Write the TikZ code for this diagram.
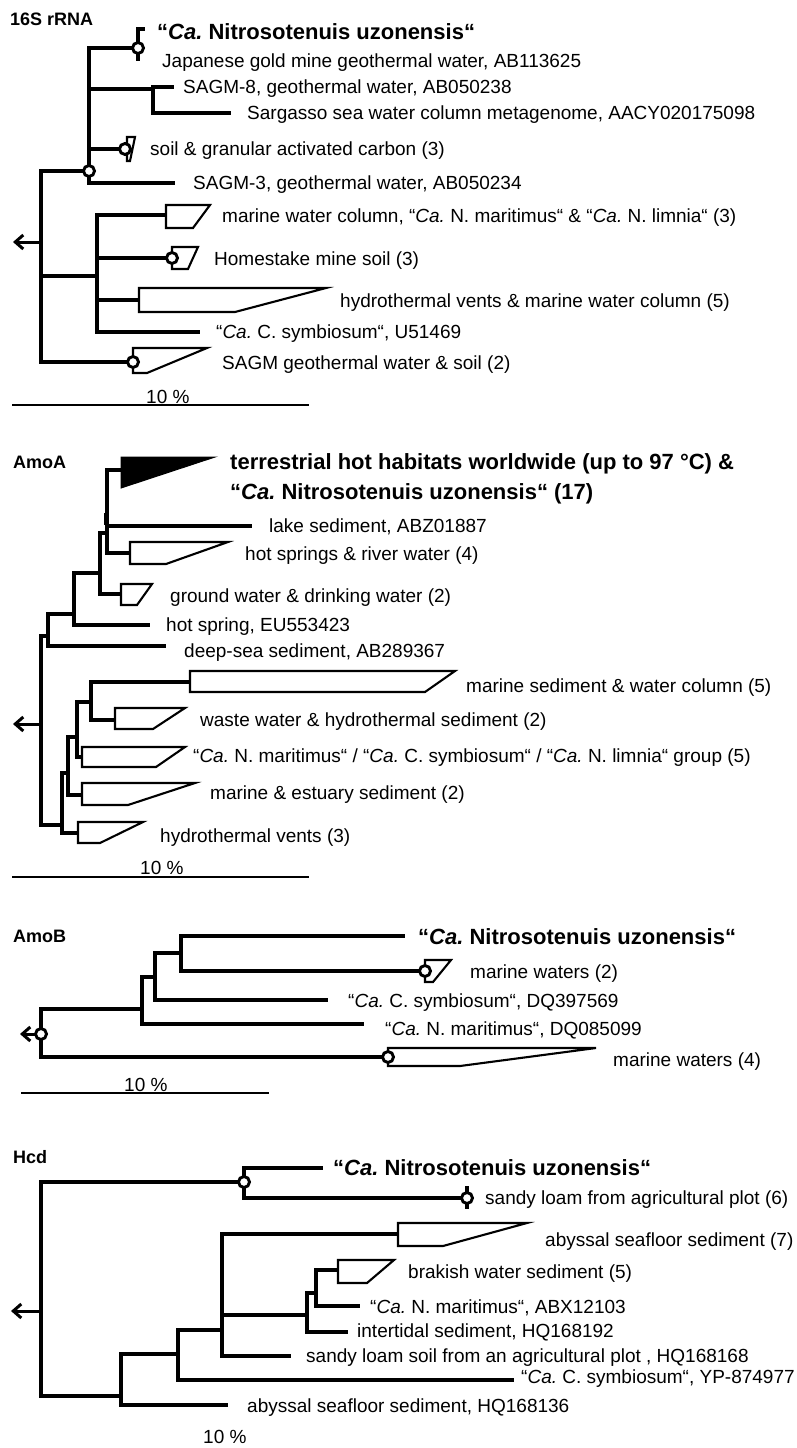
\documentclass[tikz,border=0pt]{standalone}
\usepackage{fontspec}
\setmainfont{Liberation Sans}
\usetikzlibrary{arrows.meta}
\frenchspacing
\newcommand{\cladeshape}[5]{\draw[wdg] (#1,#2) -- (#4,#2) -- (#5,#3) -- (#1,#3) -- cycle;}
\tikzset{
  br/.style={line width=3.2pt},
  brt/.style={line width=3.4pt},
  wdg/.style={line width=2.1pt, fill=white},
  bub/.style={circle, draw, line width=2.9pt, fill=white, minimum size=11pt, inner sep=0pt},
  lab/.style={anchor=west, inner sep=0pt, text height=13.4pt, text depth=0pt, font=\fontsize{19}{22}\selectfont},
  blab/.style={anchor=west, inner sep=0pt, text height=15.5pt, text depth=0pt, font=\fontsize{22}{26}\selectfont\bfseries},
  ttl/.style={anchor=west, inner sep=0pt, text height=12.8pt, text depth=0pt, font=\fontsize{18}{21}\selectfont\bfseries},
  rarr/.style={line width=3pt, -{Straight Barb[length=8pt,width=14pt]}},
  sbar/.style={line width=2.3pt}
}
\begin{document}
\begin{tikzpicture}[x=1pt,y=-1pt]
\useasboundingbox (0,0) rectangle (796,1448);

%%%%%%%%%%%%%%%%%%%% 16S rRNA
\node[ttl] (t1) at (10,19) {16S rRNA};
\coordinate (r1) at (41,242);
\coordinate (a1) at (13,242);
\coordinate (n1a) at (89,171);
\coordinate (n1b) at (97,276);
\coordinate (s1sagm) at (133,362);
\draw[br] (r1) |- (n1a) (r1) |- (n1b) (r1) |- (s1sagm);
\draw[rarr] (r1) -- (a1);
\coordinate (n1c) at (138,48);
\coordinate (n1d) at (153,89);
\coordinate (s1soil) at (122,149);
\coordinate (l1sagm3) at (175,183);
\draw[br] (n1a) |- (n1c) (n1a) |- (n1d) (n1a) |- (s1soil) (n1a) |- (l1sagm3);
\coordinate (l1uzo) at (145,29);
\coordinate (l1jap) at (138,61);
\draw[br] (n1c) |- (l1uzo) (n1c) -- (l1jap);
\coordinate (l1s8) at (174,87);
\coordinate (l1sarg) at (231,113);
\draw[br] (n1d) |- (l1s8) (n1d) |- (l1sarg);
\cladeshape{127}{137}{161}{135}{130}
\coordinate (s1mar) at (166,215);
\coordinate (s1home) at (168,258);
\coordinate (s1hyd) at (139,300);
\coordinate (l1csym) at (200,332);
\draw[br] (n1b) |- (s1mar) (n1b) |- (s1home) (n1b) |- (s1hyd) (n1b) |- (l1csym);
\cladeshape{166}{205}{228}{210}{193}
\cladeshape{172}{247}{269}{198}{188}
\cladeshape{139}{288}{312}{326}{235}
\cladeshape{133}{348}{373}{207}{147}
\node[bub] (c1a) at (n1a) {};
\node[bub] (c1c) at (n1c) {};
\node[bub] (c1soil) at (125,149) {};
\node[bub] (c1home) at (172,258) {};
\node[bub] (c1sagm) at (s1sagm) {};
\node[blab] (u1) at (157,32) {“\textit{Ca.} Nitrosotenuis uzonensis“};
\node[lab] (x1a) at (162,61) {Japanese gold mine geothermal water, AB113625};
\node[lab] (x1b) at (183,87) {SAGM-8, geothermal water, AB050238};
\node[lab] (x1c) at (247,113) {Sargasso sea water column metagenome, AACY020175098};
\node[lab] (x1d) at (150,149) {soil \& granular activated carbon (3)};
\node[lab] (x1e) at (193,183) {SAGM-3, geothermal water, AB050234};
\node[lab] (x1f) at (222,216) {marine water column, “\textit{Ca.} N. maritimus“ \& “\textit{Ca.} N. limnia“ (3)};
\node[lab] (x1g) at (214,259) {Homestake mine soil (3)};
\node[lab] (x1h) at (340,301) {hydrothermal vents \& marine water column (5)};
\node[lab] (x1i) at (216,332) {“\textit{Ca.} C. symbiosum“, U51469};
\node[lab] (x1j) at (222,363) {SAGM geothermal water \& soil (2)};
\coordinate (sb1a) at (12,405);
\coordinate (sb1b) at (309,405);
\draw[sbar] (sb1a) -- (sb1b);
\node[lab] (p1) at (146,397) {10 \%};

%%%%%%%%%%%%%%%%%%%% AmoA
\node[ttl] (t2) at (13,462) {AmoA};
\coordinate (r2) at (41,724);
\coordinate (a2) at (13,724);
\coordinate (nD) at (48,636);
\coordinate (nH) at (62,825);
\draw[br] (r2) |- (nD) (r2) |- (nH);
\draw[rarr] (r2) -- (a2);
\coordinate (nC) at (74,614);
\coordinate (l2deep) at (166,646);
\draw[br] (nD) |- (nC) (nD) |- (l2deep);
\coordinate (nB) at (100,573);
\coordinate (l2hot) at (150,625);
\draw[br] (nC) |- (nB) (nC) |- (l2hot);
\coordinate (nA) at (107,533);
\coordinate (s2gw) at (121,594);
\draw[br] (nB) |- (nA) (nB) |- (s2gw);
\coordinate (s2terr) at (121,470);
\coordinate (l2lake) at (252,526);
\coordinate (s2hs) at (130,553);
\draw[br] (nA) |- (s2terr) (nA) |- (l2lake) (nA) |- (s2hs);
\draw[line width=4pt] (106,513) -- (106,525);
\coordinate (nG) at (68,773);
\coordinate (s2hv) at (78,833);
\draw[brt] (nH) |- (nG) (nH) |- (s2hv);
\coordinate (nF) at (77,737);
\coordinate (s2est) at (82,795);
\draw[br] (nG) |- (nF) (nG) |- (s2est);
\coordinate (nE) at (91,702);
\coordinate (s2mar) at (82,757);
\draw[br] (nF) |- (nE) (nF) |- (s2mar);
\coordinate (s2sed) at (190,682);
\coordinate (s2waste) at (115,720);
\draw[brt] (nE) |- (s2sed) (nE) |- (s2waste);
\draw[fill=black, line width=1pt] (121,457) -- (215,457) -- (121,488) -- cycle;
\cladeshape{130}{542}{564}{228}{166}
\cladeshape{121}{584}{605}{152}{137}
\cladeshape{190}{671}{692}{455}{425}
\cladeshape{115}{708}{729}{185}{153}
\cladeshape{82}{747}{767}{185}{156}
\cladeshape{82}{783}{805}{195}{128}
\cladeshape{78}{822}{843}{143}{100}
\node[blab] (u2a) at (230,462) {terrestrial hot habitats worldwide (up to 97 °C) \&};
\node[blab] (u2b) at (230,492) {“\textit{Ca.} Nitrosotenuis uzonensis“ (17)};
\node[lab] (x2a) at (269,526) {lake sediment, ABZ01887};
\node[lab] (x2b) at (245,554) {hot springs \& river water (4)};
\node[lab] (x2c) at (170,596) {ground water \& drinking water (2)};
\node[lab] (x2d) at (166,625) {hot spring, EU553423};
\node[lab] (x2e) at (184,651) {deep-sea sediment, AB289367};
\node[lab] (x2f) at (466,686) {marine sediment \& water column (5)};
\node[lab] (x2g) at (200,720) {waste water \& hydrothermal sediment (2)};
\node[lab] (x2h) at (193,756) {“\textit{Ca.} N. maritimus“ / “\textit{Ca.} C. symbiosum“ / “\textit{Ca.} N. limnia“ group (5)};
\node[lab] (x2i) at (210,793) {marine \& estuary sediment (2)};
\node[lab] (x2j) at (160,836) {hydrothermal vents (3)};
\coordinate (sb2a) at (12,877);
\coordinate (sb2b) at (309,877);
\draw[sbar] (sb2a) -- (sb2b);
\node[lab] (p2) at (140,868) {10 \%};

%%%%%%%%%%%%%%%%%%%% AmoB
\node[ttl] (t3) at (13,936) {AmoB};
\coordinate (r3) at (41,1034);
\coordinate (a3) at (20,1034);
\coordinate (nK) at (142,1009);
\coordinate (s3mw4) at (388,1057);
\draw[br] (r3) |- (nK) (r3) |- (s3mw4);
\draw[rarr] (r3) -- (a3);
\coordinate (nJ) at (155,977);
\coordinate (l3nmar) at (364,1024);
\draw[br] (nK) |- (nJ) (nK) |- (l3nmar);
\coordinate (nI) at (181,953);
\coordinate (l3csym) at (328,1000);
\draw[br] (nJ) |- (nI) (nJ) |- (l3csym);
\coordinate (l3uzo) at (405,936);
\coordinate (s3mw2) at (425,971);
\draw[br] (nI) |- (l3uzo) (nI) |- (s3mw2);
\cladeshape{425}{960}{982}{451}{433}
\cladeshape{388}{1048}{1066}{596}{460}
\node[bub] (c3r) at (r3) {};
\node[bub] (c3mw2) at (s3mw2) {};
\node[bub] (c3mw4) at (s3mw4) {};
\node[blab] (u3) at (418,937) {“\textit{Ca.} Nitrosotenuis uzonensis“};
\node[lab] (x3a) at (470,972) {marine waters (2)};
\node[lab] (x3b) at (348,1001) {“\textit{Ca.} C. symbiosum“, DQ397569};
\node[lab] (x3c) at (385,1029) {“\textit{Ca.} N. maritimus“, DQ085099};
\node[lab] (x3d) at (613,1060) {marine waters (4)};
\coordinate (sb3a) at (21,1093);
\coordinate (sb3b) at (269,1093);
\draw[sbar] (sb3a) -- (sb3b);
\node[lab] (p3) at (124,1085) {10 \%};

%%%%%%%%%%%%%%%%%%%% Hcd
\node[ttl] (t4) at (13,1157) {Hcd};
\coordinate (r4) at (41,1311);
\coordinate (a4) at (11,1311);
\coordinate (nL) at (244,1182);
\coordinate (nM) at (121,1396);
\draw[br] (r4) |- (nL) (r4) |- (nM);
\draw[rarr] (r4) -- (a4);
\coordinate (l4uzo) at (323,1168);
\coordinate (s4sl) at (467,1198);
\draw[br] (nL) |- (l4uzo) (nL) |- (s4sl);
\coordinate (t4a) at (467,1186);
\coordinate (t4b) at (467,1209);
\draw[br] (t4a) -- (t4b);
\coordinate (nN) at (178,1354);
\coordinate (l4aby) at (228,1405);
\draw[br] (nM) |- (nN) (nM) |- (l4aby);
\coordinate (nO) at (222,1330);
\coordinate (l4csym) at (514,1380);
\draw[br] (nN) |- (nO) (nN) |- (l4csym);
\coordinate (s4aby) at (398,1234);
\coordinate (nP) at (307,1315);
\coordinate (l4sandy) at (291,1356);
\draw[br] (nO) |- (s4aby) (nO) |- (nP) (nO) |- (l4sandy);
\coordinate (nQ) at (316,1293);
\coordinate (l4inter) at (348,1332);
\draw[br] (nP) |- (nQ) (nP) |- (l4inter);
\coordinate (s4brak) at (338,1270);
\coordinate (l4nmar) at (360,1306);
\draw[br] (nQ) |- (s4brak) (nQ) |- (l4nmar);
\cladeshape{398}{1223}{1246}{527}{443}
\cladeshape{338}{1260}{1283}{394}{367}
\node[bub] (c4L) at (nL) {};
\node[bub] (c4sl) at (s4sl) {};
\node[blab] (u4) at (333,1168) {“\textit{Ca.} Nitrosotenuis uzonensis“};
\node[lab] (x4a) at (485,1198) {sandy loam from agricultural plot (6)};
\node[lab] (x4b) at (545,1240) {abyssal seafloor sediment (7)};
\node[lab] (x4c) at (408,1272) {brakish water sediment (5)};
\node[lab] (x4d) at (370,1307) {“\textit{Ca.} N. maritimus“, ABX12103};
\node[lab] (x4e) at (357,1331) {intertidal sediment, HQ168192};
\node[lab] (x4f) at (306,1356) {sandy loam soil from an agricultural plot , HQ168168};
\node[lab] (x4g) at (521,1377) {“\textit{Ca.} C. symbiosum“, YP-874977};
\node[lab] (x4h) at (247,1406) {abyssal seafloor sediment, HQ168136};
\node[lab] (p4) at (203,1437) {10 \%};
\end{tikzpicture}
\end{document}
